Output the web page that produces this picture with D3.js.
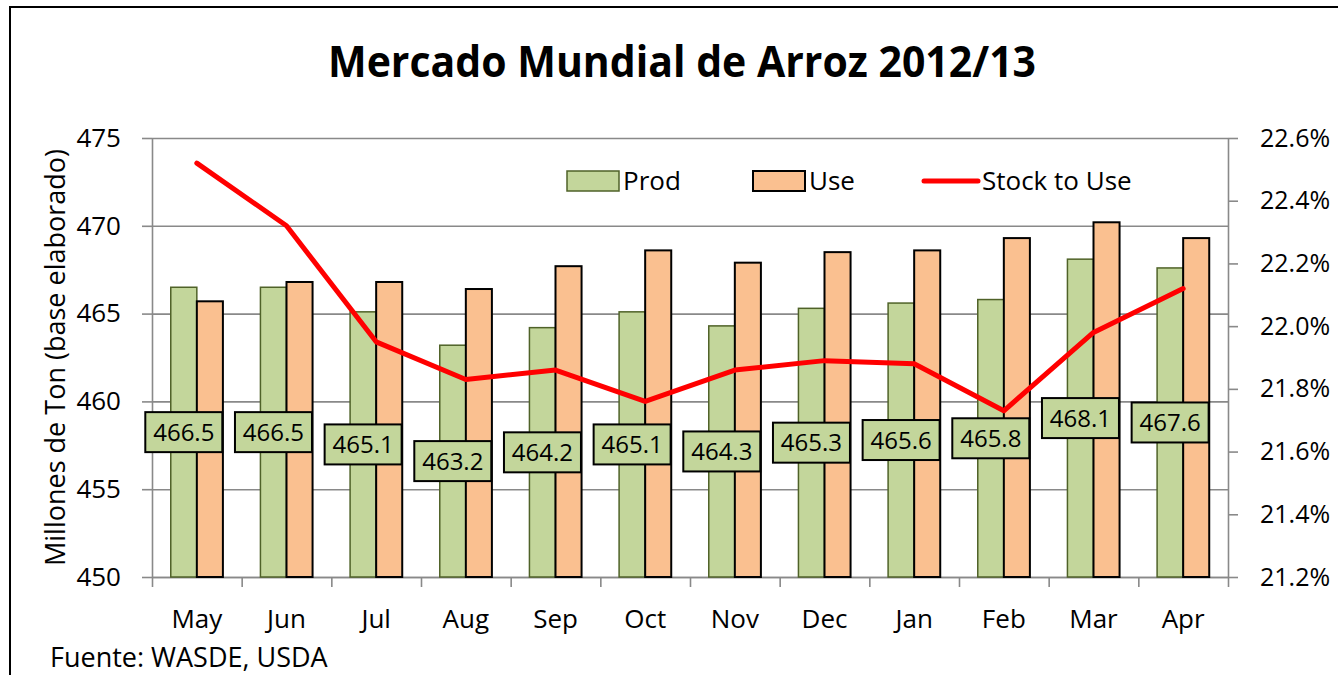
<!DOCTYPE html>
<html>
<head>
<meta charset="utf-8">
<script src="https://cdn.jsdelivr.net/npm/d3@7"></script>
<style>
  body { margin: 0; background: #fff; }
  text { font-family: "Open Sans", "DejaVu Sans", sans-serif; fill: #000; }
</style>
</head>
<body>
<svg id="drawing_chart"></svg>
<script>
// values
const months = ["May", "Jun", "Jul", "Aug", "Sep", "Oct", "Nov", "Dec", "Jan", "Feb", "Mar", "Apr"];
const prod = [466.5, 466.5, 465.1, 463.2, 464.2, 465.1, 464.3, 465.3, 465.6, 465.8, 468.1, 467.6];
const use = [465.7, 466.8, 466.8, 466.4, 467.7, 468.6, 467.9, 468.5, 468.6, 469.3, 470.2, 469.3];
const stockToUse = [22.52, 22.32, 21.95, 21.83, 21.86, 21.76, 21.86, 21.89, 21.88, 21.73, 21.98, 22.12];
const leftTicks = [450, 455, 460, 465, 470, 475];
const rightTicks = [21.2, 21.4, 21.6, 21.8, 22.0, 22.2, 22.4, 22.6];
const seriesNames = ["Prod", "Use", "Stock to Use"];

class ComboChart {
    constructor( config ) {
        this.config = {
            parent: config.parent,
            width: config.width || 1338,
            height: config.height || 675,
            margin: config.margin || {top:138, right:110, bottom:98, left:152}
        }
        this.init();
    }

    init(){
        let self = this;
        self.svg = d3.select( self.config.parent )
            .attr('width', self.config.width)
            .attr('height', self.config.height);

        // outer frame (right and bottom edges fall outside the picture)
        self.svg.append('rect')
            .attr('x', 10).attr('y', 7)
            .attr('width', self.config.width + 10)
            .attr('height', self.config.height + 10)
            .attr('fill', 'white')
            .attr('stroke', '#000')
            .attr('stroke-width', 2);

        self.x0 = self.config.margin.left;
        self.x1 = self.config.width - self.config.margin.right;
        self.y0 = self.config.height - self.config.margin.bottom;
        self.y1 = self.config.margin.top;

        self.xscale = d3.scaleBand()
            .domain(months)
            .range([self.x0, self.x1]);

        self.xsub = d3.scaleBand()
            .domain(["Prod", "Use"])
            .range([0, self.xscale.bandwidth()])
            .paddingOuter(0.72);

        self.yscale = d3.scaleLinear()
            .domain([d3.min(leftTicks), d3.max(leftTicks)])
            .range([self.y0, self.y1]);

        self.y2scale = d3.scaleLinear()
            .domain([d3.min(rightTicks), d3.max(rightTicks)])
            .range([self.y0, self.y1]);

        self.render();
    }

    render(){
        let self = this;
        const gray = '#898989';

        // gridlines
        const grid = self.svg.append('g')
            .attr('transform', `translate(${self.x0}, 0)`)
            .call( d3.axisLeft(self.yscale).tickValues(leftTicks).tickSize(-(self.x1 - self.x0)).tickFormat('') );
        grid.select('.domain').remove();
        grid.selectAll('line').attr('stroke', gray).attr('stroke-width', 1.6);

        // left axis
        const yaxis = self.svg.append('g')
            .attr('transform', `translate(${self.x0}, 0)`)
            .call( d3.axisLeft(self.yscale).tickValues(leftTicks).tickSize(10).tickPadding(21).tickSizeOuter(0) );
        yaxis.selectAll('line, path').attr('stroke', gray).attr('stroke-width', 1.6);
        yaxis.selectAll('text').attr('font-size', 26).attr('font-family', '"Open Sans"').attr('fill', '#000');

        // right axis
        const y2axis = self.svg.append('g')
            .attr('transform', `translate(${self.x1}, 0)`)
            .call( d3.axisRight(self.y2scale).tickValues(rightTicks).tickSize(10).tickPadding(22).tickSizeOuter(0)
                .tickFormat(d => d3.format('.1f')(d) + '%') );
        y2axis.selectAll('line, path').attr('stroke', gray).attr('stroke-width', 1.6);
        y2axis.selectAll('text').attr('font-size', 25).attr('font-family', '"Open Sans"').attr('fill', '#000');

        // bottom axis: ticks on category boundaries, labels at centres
        const bounds = d3.scaleLinear().domain([0, months.length]).range([self.x0, self.x1]);
        const xticks = self.svg.append('g')
            .attr('transform', `translate(0, ${self.y0})`)
            .call( d3.axisBottom(bounds).tickValues(d3.range(months.length + 1)).tickSize(10).tickFormat('').tickSizeOuter(0) );
        xticks.selectAll('line, path').attr('stroke', gray).attr('stroke-width', 1.6);

        const xaxis = self.svg.append('g')
            .attr('transform', `translate(0, ${self.y0})`)
            .call( d3.axisBottom(self.xscale).tickSize(0).tickPadding(33) );
        xaxis.select('.domain').remove();
        xaxis.selectAll('text').attr('font-size', 26).attr('font-family', '"Open Sans"').attr('fill', '#000');

        // bars
        const bars = self.svg.append('g');
        bars.selectAll('rect.prod')
            .data(prod)
            .join('rect')
            .attr('class', 'prod')
            .attr('x', (d, i) => self.xscale(months[i]) + self.xsub('Prod'))
            .attr('y', d => self.yscale(d))
            .attr('width', self.xsub.bandwidth())
            .attr('height', d => self.y0 - self.yscale(d))
            .attr('fill', '#c3d69b')
            .attr('stroke', '#4f6228')
            .attr('stroke-width', 1.5);

        bars.selectAll('rect.use')
            .data(use)
            .join('rect')
            .attr('class', 'use')
            .attr('x', (d, i) => self.xscale(months[i]) + self.xsub('Use'))
            .attr('y', d => self.yscale(d))
            .attr('width', self.xsub.bandwidth())
            .attr('height', d => self.y0 - self.yscale(d))
            .attr('fill', '#fac090')
            .attr('stroke', '#000')
            .attr('stroke-width', 2);

        // stock to use line
        const line = d3.line()
            .x((d, i) => self.xscale(months[i]) + self.xscale.bandwidth() / 2)
            .y(d => self.y2scale(d));

        self.svg.append('path')
            .datum(stockToUse)
            .attr('d', line)
            .attr('fill', 'none')
            .attr('stroke', '#ff0000')
            .attr('stroke-width', 5)
            .attr('stroke-linejoin', 'round')
            .attr('stroke-linecap', 'round');

        // data labels on the Prod bars
        const labels = self.svg.append('g').selectAll('g')
            .data(prod)
            .join('g')
            .attr('transform', (d, i) => {
                const cx = self.xscale(months[i]) + self.xsub('Prod') + self.xsub.bandwidth() / 2;
                const cy = (self.yscale(d) + self.y0) / 2;
                return `translate(${cx}, ${cy})`;
            });
        labels.append('rect')
            .attr('x', -38.5).attr('y', -20)
            .attr('width', 77).attr('height', 40)
            .attr('fill', '#c3d69b')
            .attr('stroke', '#000')
            .attr('stroke-width', 2);
        labels.append('text')
            .attr('text-anchor', 'middle')
            .attr('dy', '0.36em')
            .attr('font-size', 24)
            .text(d => d3.format('.1f')(d));

        // legend
        const legend = self.svg.append('g');
        legend.append('rect').attr('x', 567).attr('y', 171).attr('width', 52).attr('height', 20)
            .attr('fill', '#c3d69b').attr('stroke', '#4f6228').attr('stroke-width', 1.5);
        legend.append('text').attr('x', 623).attr('y', 181).attr('dy', '0.36em').attr('font-size', 26).text(seriesNames[0]);
        legend.append('rect').attr('x', 753).attr('y', 171).attr('width', 52).attr('height', 20)
            .attr('fill', '#fac090').attr('stroke', '#000').attr('stroke-width', 2);
        legend.append('text').attr('x', 809).attr('y', 181).attr('dy', '0.36em').attr('font-size', 26).text(seriesNames[1]);
        legend.append('line').attr('x1', 924).attr('x2', 978).attr('y1', 181).attr('y2', 181)
            .attr('stroke', '#ff0000').attr('stroke-width', 5).attr('stroke-linecap', 'round');
        legend.append('text').attr('x', 982).attr('y', 181).attr('dy', '0.36em').attr('font-size', 26).text(seriesNames[2]);

        // titles
        self.svg.append('text')
            .attr('x', 682).attr('y', 77)
            .attr('text-anchor', 'middle')
            .attr('font-size', 43)
            .attr('font-weight', 'bold')
            .attr('textLength', 708)
            .attr('lengthAdjust', 'spacingAndGlyphs')
            .text('Mercado Mundial de Arroz 2012/13');

        self.svg.append('text')
            .attr('transform', `translate(55, ${(self.y0 + self.y1) / 2}) rotate(-90)`)
            .attr('text-anchor', 'middle')
            .attr('dy', '0.36em')
            .attr('font-size', 27)
            .text('Millones de Ton (base elaborado)');

        self.svg.append('text')
            .attr('x', 50).attr('y', 667)
            .attr('font-size', 27)
            .text('Fuente: WASDE, USDA');
    }
}

let chart = new ComboChart({
    parent: '#drawing_chart',
    width: 1338,
    height: 675,
    margin: {top:138, right:110, bottom:98, left:152}
});
</script>
</body>
</html>
